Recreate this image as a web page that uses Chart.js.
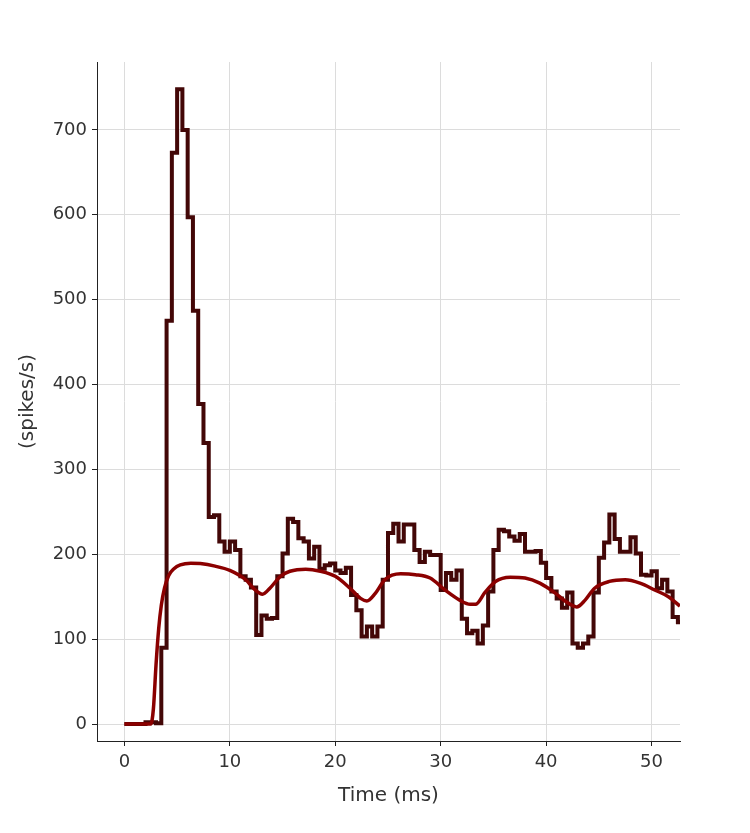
<!DOCTYPE html>
<html>
<head>
<meta charset="utf-8">
<script src="https://cdn.jsdelivr.net/npm/chart.js@4/dist/chart.umd.min.js"></script>
<style>html,body{margin:0;padding:0;background:#fff}</style>
</head>
<body>
<canvas id="rateChart" width="750" height="833"></canvas>
<script>
// PSTH bins, 0.5 ms wide, starting at 0 ms
const binWidth = 0.5;
const rateValues = [
0,0,0,0,2,2,1,90,475,673,
748,700,597,487,377,331,244,246,215,203,
215,205,174,170,161,105,128,124,125,174,
201,242,238,219,215,195,209,183,187,189,
181,178,184,152,134,103,115,103,115,170,
225,236,215,235,235,205,191,203,199,199,
158,178,170,181,124,107,110,95,116,156,
205,229,227,221,216,224,203,203,204,190,
172,156,148,137,155,95,90,95,103,155,
196,214,247,218,203,203,220,201,176,175,
180,160,170,156,126,120
];

// smooth rate curve (time ms, spikes/s)
const curveTimes = [0,2.5,2.75,3.0,3.25,3.5,3.8,4.2,4.7,5.3,6.3,7.2,8.6,10.0,11.5,12.4,13.1,13.8,14.8,15.7,17.2,18.6,20.0,21.4,22.4,23.0,23.8,24.7,26.2,27.6,29.0,30.4,31.8,32.8,33.3,34.2,35.2,36.6,38.0,39.4,40.9,41.8,42.9,43.7,44.6,46.0,47.5,48.9,50.3,51.6,52.7];
const curveRates = [0,0,18,70,112,140,160,175,183,187.5,189.5,189,186,181,170,158,153,160,174,180,182.5,180,174,160,148,145,154,170,177,176,172,158,146,141,141,155,168,173,172,166,154,145,138,146,160,168,170,166,158,150,139];

const xTicks = [0,10,20,30,40,50];
const yTicks = [0,100,200,300,400,500,600,700];

const histPoints = rateValues.map((v,i)=>({x:i*binWidth,y:v}));
histPoints.push({x:rateValues.length*binWidth,y:rateValues[rateValues.length-1]});
const curvePoints = curveTimes.map((t,i)=>({x:t,y:curveRates[i]}));

const tickFont = {family:"'DejaVu Sans', sans-serif", size:18};
const titleFont = {family:"'DejaVu Sans', sans-serif", size:20};

new Chart(document.getElementById("rateChart"),{
type:"line",
data:{datasets:[
{data:curvePoints,borderColor:"#8b0000",borderWidth:3.5,pointRadius:0,cubicInterpolationMode:"monotone",fill:false},
{data:histPoints,borderColor:"#430707",borderWidth:4,pointRadius:0,stepped:true,fill:false}
]},
options:{
responsive:false,animation:false,
layout:{padding:{top:62,right:70,left:0,bottom:0}},
plugins:{legend:{display:false},tooltip:{enabled:false}},
scales:{
x:{type:"linear",min:-2.6,max:52.7,
afterBuildTicks:s=>{s.ticks=xTicks.map(v=>({value:v}));},
afterFit:s=>{s.height=92;},
grid:{color:"#dcdcdc",lineWidth:1,tickColor:"#222",tickLength:5},
border:{color:"#222",width:1},
ticks:{font:tickFont,color:"#333",padding:6,maxRotation:0},
title:{display:true,text:"Time (ms)",font:titleFont,color:"#333",padding:{top:0,bottom:25}}},
y:{min:-20,max:780,
afterBuildTicks:s=>{s.ticks=yTicks.map(v=>({value:v}));},
afterFit:s=>{s.width=97;},
grid:{color:"#dcdcdc",lineWidth:1,tickColor:"#222",tickLength:5},
border:{color:"#222",width:1},
ticks:{font:tickFont,color:"#333",padding:5},
title:{display:true,text:"(spikes/s)",font:titleFont,color:"#333",padding:{top:16,bottom:0}}}
}
}
});
</script>
</body>
</html>
